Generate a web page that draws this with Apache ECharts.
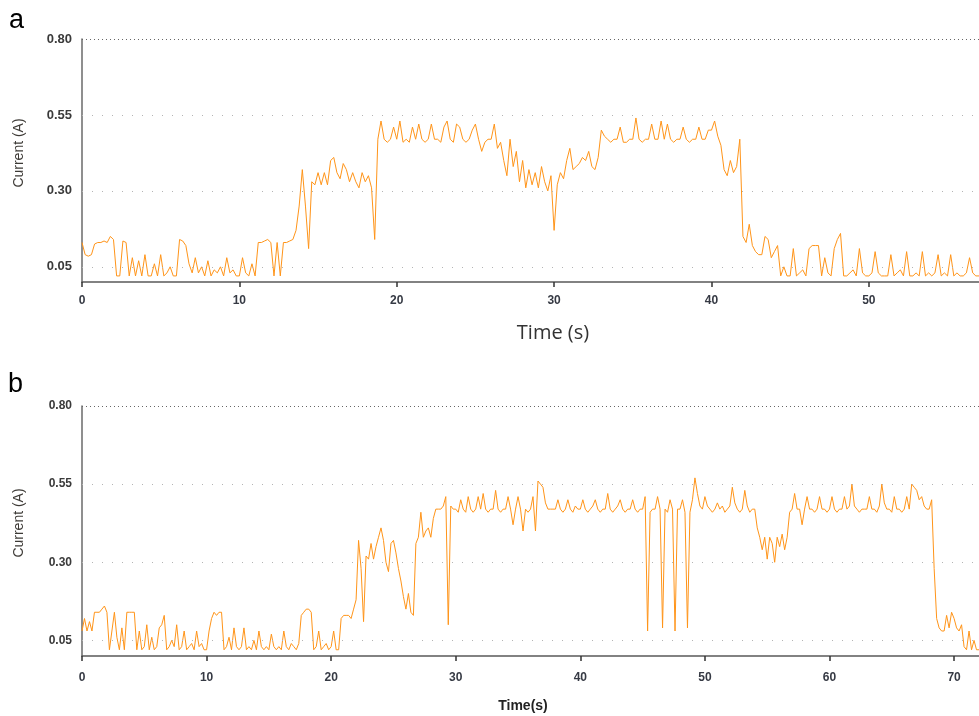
<!DOCTYPE html>
<html>
<head>
<meta charset="utf-8">
<script src="https://cdn.jsdelivr.net/npm/echarts@6/dist/echarts.min.js"></script>
<style>
  html, body { margin: 0; padding: 0; background: #fff; }
  #chart { width: 979px; height: 716px; }
</style>
</head>
<body>
<div id="chart"></div>
<script>
// sample spacing (s) of the two current traces
var stepA = 0.2;
var stepB = 0.2;

// panel a, current (A) every 0.2 s from 0 to 57 s
var currentA = [
  0.13, 0.09, 0.085, 0.09, 0.125, 0.13, 0.13, 0.135, 0.13, 0.15,
  0.14, 0.02, 0.02, 0.135, 0.13, 0.02, 0.08, 0.02, 0.07, 0.02,
  0.09, 0.02, 0.02, 0.06, 0.02, 0.09, 0.02, 0.03, 0.05, 0.02,
  0.02, 0.14, 0.135, 0.12, 0.06, 0.03, 0.08, 0.03, 0.05, 0.02,
  0.07, 0.02, 0.04, 0.03, 0.05, 0.02, 0.08, 0.03, 0.04, 0.02,
  0.02, 0.08, 0.03, 0.02, 0.06, 0.02, 0.13, 0.13, 0.135, 0.14,
  0.13, 0.02, 0.13, 0.02, 0.13, 0.13, 0.135, 0.14, 0.17, 0.25,
  0.37, 0.25, 0.11, 0.33, 0.32, 0.36, 0.32, 0.36, 0.32, 0.40,
  0.41, 0.36, 0.34, 0.39, 0.37, 0.33, 0.36, 0.33, 0.31, 0.36,
  0.33, 0.35, 0.31, 0.14, 0.47, 0.53, 0.47, 0.46, 0.47, 0.51,
  0.47, 0.53, 0.46, 0.47, 0.46, 0.51, 0.47, 0.52, 0.47, 0.46,
  0.47, 0.52, 0.47, 0.47, 0.46, 0.51, 0.53, 0.47, 0.46, 0.52,
  0.51, 0.47, 0.46, 0.47, 0.50, 0.52, 0.47, 0.43, 0.46, 0.47,
  0.47, 0.52, 0.44, 0.46, 0.40, 0.35, 0.47, 0.38, 0.43, 0.33,
  0.40, 0.31, 0.37, 0.32, 0.36, 0.31, 0.38, 0.33, 0.30, 0.35,
  0.17, 0.32, 0.36, 0.34, 0.40, 0.44, 0.37, 0.38, 0.39, 0.41,
  0.40, 0.43, 0.38, 0.37, 0.41, 0.50, 0.48, 0.47, 0.46, 0.47,
  0.47, 0.51, 0.46, 0.46, 0.47, 0.47, 0.54, 0.47, 0.46, 0.47,
  0.47, 0.52, 0.47, 0.47, 0.53, 0.47, 0.52, 0.47, 0.46, 0.47,
  0.47, 0.51, 0.47, 0.46, 0.47, 0.47, 0.51, 0.47, 0.47, 0.50,
  0.50, 0.53, 0.48, 0.45, 0.37, 0.35, 0.40, 0.36, 0.38, 0.47,
  0.15, 0.13, 0.19, 0.12, 0.10, 0.09, 0.09, 0.15, 0.14, 0.08,
  0.10, 0.12, 0.02, 0.05, 0.02, 0.02, 0.11, 0.02, 0.03, 0.04,
  0.02, 0.11, 0.12, 0.12, 0.12, 0.02, 0.08, 0.03, 0.02, 0.11,
  0.14, 0.16, 0.02, 0.02, 0.03, 0.04, 0.02, 0.11, 0.03, 0.02,
  0.02, 0.03, 0.10, 0.03, 0.02, 0.02, 0.02, 0.09, 0.02, 0.03,
  0.04, 0.02, 0.10, 0.02, 0.02, 0.03, 0.02, 0.10, 0.02, 0.03,
  0.02, 0.03, 0.09, 0.02, 0.03, 0.02, 0.09, 0.02, 0.03, 0.02,
  0.02, 0.03, 0.08, 0.03, 0.02, 0.02
];

// panel b, current (A) every 0.2 s from 0 to 72 s
var currentB = [
  0.08, 0.12, 0.08, 0.11, 0.08, 0.14, 0.14, 0.14, 0.15, 0.16,
  0.14, 0.02, 0.08, 0.14, 0.06, 0.02, 0.09, 0.02, 0.14, 0.14,
  0.14, 0.14, 0.02, 0.08, 0.02, 0.03, 0.10, 0.02, 0.06, 0.02,
  0.03, 0.09, 0.10, 0.13, 0.02, 0.03, 0.05, 0.03, 0.10, 0.02,
  0.03, 0.08, 0.02, 0.03, 0.04, 0.02, 0.08, 0.03, 0.04, 0.02,
  0.02, 0.08, 0.12, 0.14, 0.13, 0.14, 0.14, 0.02, 0.03, 0.06,
  0.02, 0.09, 0.03, 0.02, 0.03, 0.09, 0.02, 0.03, 0.02, 0.05,
  0.02, 0.08, 0.03, 0.02, 0.03, 0.02, 0.07, 0.03, 0.02, 0.03,
  0.02, 0.08, 0.03, 0.02, 0.04, 0.03, 0.02, 0.04, 0.13, 0.14,
  0.15, 0.15, 0.14, 0.02, 0.03, 0.08, 0.02, 0.03, 0.04, 0.02,
  0.03, 0.08, 0.02, 0.02, 0.12, 0.13, 0.13, 0.13, 0.12, 0.15,
  0.18, 0.37, 0.28, 0.11, 0.32, 0.31, 0.36, 0.31, 0.35, 0.38,
  0.41, 0.37, 0.30, 0.27, 0.36, 0.37, 0.33, 0.28, 0.24, 0.19,
  0.15, 0.20, 0.14, 0.13, 0.36, 0.38, 0.46, 0.38, 0.40, 0.41,
  0.38, 0.44, 0.47, 0.47, 0.47, 0.48, 0.51, 0.10, 0.48, 0.47,
  0.47, 0.46, 0.50, 0.47, 0.46, 0.51, 0.47, 0.46, 0.47, 0.51,
  0.47, 0.52, 0.47, 0.46, 0.47, 0.47, 0.53, 0.47, 0.46, 0.47,
  0.47, 0.51, 0.47, 0.42, 0.47, 0.51, 0.47, 0.40, 0.47, 0.46,
  0.47, 0.51, 0.40, 0.56, 0.55, 0.54, 0.49, 0.47, 0.47, 0.47,
  0.47, 0.50, 0.47, 0.46, 0.47, 0.50, 0.47, 0.46, 0.48, 0.47,
  0.47, 0.50, 0.47, 0.46, 0.47, 0.48, 0.50, 0.47, 0.46, 0.47,
  0.47, 0.52, 0.47, 0.46, 0.47, 0.48, 0.50, 0.47, 0.46, 0.47,
  0.47, 0.50, 0.47, 0.46, 0.47, 0.47, 0.51, 0.08, 0.46, 0.47,
  0.47, 0.51, 0.47, 0.09, 0.47, 0.46, 0.50, 0.47, 0.08, 0.47,
  0.47, 0.50, 0.46, 0.09, 0.46, 0.50, 0.57, 0.52, 0.48, 0.47,
  0.51, 0.48, 0.47, 0.46, 0.47, 0.49, 0.47, 0.48, 0.46, 0.47,
  0.48, 0.54, 0.49, 0.47, 0.46, 0.47, 0.53, 0.48, 0.46, 0.47,
  0.47, 0.41, 0.38, 0.34, 0.38, 0.31, 0.38, 0.36, 0.30, 0.38,
  0.35, 0.39, 0.34, 0.38, 0.46, 0.47, 0.52, 0.47, 0.47, 0.42,
  0.47, 0.51, 0.47, 0.47, 0.46, 0.47, 0.51, 0.47, 0.47, 0.46,
  0.47, 0.51, 0.47, 0.46, 0.47, 0.47, 0.51, 0.47, 0.48, 0.55,
  0.48, 0.47, 0.46, 0.47, 0.47, 0.47, 0.51, 0.47, 0.47, 0.46,
  0.48, 0.55, 0.49, 0.47, 0.47, 0.46, 0.51, 0.47, 0.47, 0.46,
  0.47, 0.51, 0.47, 0.55, 0.54, 0.53, 0.50, 0.51, 0.48, 0.47,
  0.47, 0.50, 0.28, 0.12, 0.09, 0.08, 0.08, 0.13, 0.09, 0.14,
  0.12, 0.09, 0.08, 0.10, 0.03, 0.02, 0.08, 0.02, 0.05, 0.02,
  0.02
];

var yTicks = [0.05, 0.30, 0.55, 0.80];
var gridVals = [0.05, 0.30, 0.55];
var timeMaxA = 57;
var timeMaxB = 72;

var lineColor = '#ff9419';

function toPairs(arr, step) {
  return arr.map(function(v, i) {
    return [+(i * step).toFixed(2), v];
  });
}

// dotted guide lines; the 0.80 one is denser and darker
function gridMarks() {
  var d = gridVals.map(function(v) { return { yAxis: v }; });
  d.push({ yAxis: 0.8, lineStyle: { color: '#666', type: [1, 3], width: 1.2 } });
  return {
    silent: true,
    symbol: 'none',
    animation: false,
    label: { show: false },
    lineStyle: { color: '#b4b4b4', type: [1, 9], width: 1.2 },
    data: d
  };
}

function yAxisOf(idx, fontSize) {
  return {
    type: 'value',
    gridIndex: idx,
    min: 0,
    max: 0.8,
    axisLine: { show: true, lineStyle: { color: '#6a6a6a', width: 1.5 } },
    axisTick: { show: false },
    splitLine: { show: false },
    axisLabel: {
      customValues: yTicks,
      margin: 10,
      fontSize: fontSize,
      fontWeight: 'bold',
      color: '#3a3a3a',
      fontFamily: 'Liberation Sans',
      formatter: function(v) { return v.toFixed(2); }
    }
  };
}

function xAxisOf(idx, max, margin) {
  return {
    type: 'value',
    gridIndex: idx,
    min: 0,
    max: max,
    interval: 10,
    axisLine: { show: true, onZero: false, lineStyle: { color: '#5a5a5a', width: 1.5 } },
    axisTick: { show: true, length: 5, lineStyle: { color: '#333', width: 1.5 } },
    splitLine: { show: false },
    axisLabel: {
      margin: margin,
      fontSize: 12,
      fontWeight: 'bold',
      color: '#363a44',
      fontFamily: 'Liberation Sans',
      showMaxLabel: false
    }
  };
}

var chart = echarts.init(document.getElementById('chart'));

var option = {
  animation: false,
  backgroundColor: '#fff',
  grid: [
    { left: 82, top: 39, width: 897, height: 243 },
    { left: 82, top: 406, width: 897, height: 250 }
  ],
  xAxis: [
    xAxisOf(0, timeMaxA, 13),
    xAxisOf(1, timeMaxB, 16)
  ],
  yAxis: [
    yAxisOf(0, 13),
    yAxisOf(1, 12)
  ],
  graphic: [
    { type: 'text', left: 9, top: 7, style: { text: 'a', fontSize: 27, fill: '#000', fontFamily: 'Liberation Sans' } },
    { type: 'text', left: 8, top: 371, style: { text: 'b', fontSize: 27, fill: '#000', fontFamily: 'Liberation Sans' } },
    { type: 'text', x: 553, y: 333, style: { text: 'Time (s)', fontSize: 20, fill: '#333', align: 'center', verticalAlign: 'middle', fontFamily: 'Open Sans' } },
    { type: 'text', x: 523, y: 706, style: { text: 'Time(s)', fontSize: 14, fontWeight: 'bold', fill: '#222', align: 'center', verticalAlign: 'middle', fontFamily: 'Liberation Sans' } },
    { type: 'text', x: 19, y: 153, rotation: Math.PI / 2, style: { text: 'Current (A)', fontSize: 14, fill: '#3d3a36', align: 'center', verticalAlign: 'middle', fontFamily: 'Liberation Sans' } },
    { type: 'text', x: 19, y: 523, rotation: Math.PI / 2, style: { text: 'Current (A)', fontSize: 14, fill: '#3d3a36', align: 'center', verticalAlign: 'middle', fontFamily: 'Liberation Sans' } }
  ],
  series: [
    {
      type: 'line',
      xAxisIndex: 0,
      yAxisIndex: 0,
      data: toPairs(currentA, stepA),
      showSymbol: false,
      lineStyle: { color: lineColor, width: 1 },
      markLine: gridMarks()
    },
    {
      type: 'line',
      xAxisIndex: 1,
      yAxisIndex: 1,
      data: toPairs(currentB, stepB),
      showSymbol: false,
      lineStyle: { color: lineColor, width: 1 },
      markLine: gridMarks()
    }
  ]
};

chart.setOption(option);
</script>
</body>
</html>
